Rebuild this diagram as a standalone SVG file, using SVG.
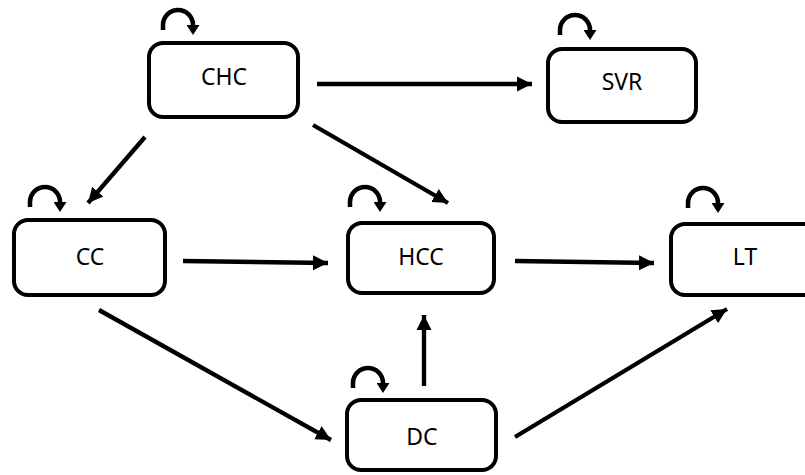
<svg xmlns="http://www.w3.org/2000/svg" width="805" height="475" viewBox="0 0 805 475">
<defs>
<marker id="ah" markerUnits="userSpaceOnUse" markerWidth="17" markerHeight="17" refX="15" refY="8" orient="auto">
<path d="M0,0.5 L15,8 L0,15.5 z" fill="#000"/>
</marker>
<marker id="lh" markerUnits="userSpaceOnUse" markerWidth="13" markerHeight="13" refX="1" refY="6.5" orient="auto">
<path d="M0,0 L10,6.5 L0,13 z" fill="#000"/>
</marker>
<path id="loop" d="M0,20 V15 A15,15 0 0 1 30,15 V16" fill="none" stroke="#000" stroke-width="4.5" marker-end="url(#lh)"/>
</defs>
<style>
.box{fill:#fff;stroke:#000;stroke-width:4}
.lbl{font-family:"Noto Sans","Open Sans",sans-serif;font-size:23px;fill:#000;text-anchor:middle;dominant-baseline:central}
.edge{stroke:#000;stroke-width:4.3;fill:none;marker-end:url(#ah)}
</style>
<rect width="805" height="475" fill="#fff"/>
<g id="edges">
<line class="edge" x1="317" y1="84" x2="532" y2="84"/>
<line class="edge" x1="145" y1="137" x2="88" y2="203"/>
<line class="edge" x1="313" y1="125" x2="448" y2="203"/>
<line class="edge" x1="183" y1="261" x2="328" y2="263"/>
<line class="edge" x1="515" y1="261" x2="654" y2="263"/>
<line class="edge" x1="99" y1="310" x2="331" y2="440"/>
<line class="edge" x1="424" y1="386" x2="424" y2="315"/>
<line class="edge" x1="515" y1="437" x2="727" y2="309"/>
</g>
<g id="CHC">
<rect class="box" x="149" y="43" width="149" height="74" rx="14"/>
<use href="#loop" x="163" y="10"/>
<text class="lbl" x="224" y="76">CHC</text>
</g>
<g id="SVR">
<rect class="box" x="548" y="49" width="148" height="73" rx="14"/>
<use href="#loop" x="560" y="15"/>
<text class="lbl" x="622" y="81">SVR</text>
</g>
<g id="CC">
<rect class="box" x="14" y="220" width="151" height="75" rx="14"/>
<use href="#loop" x="30" y="187"/>
<text class="lbl" x="90" y="256">CC</text>
</g>
<g id="HCC">
<rect class="box" x="348" y="223" width="146" height="70" rx="14"/>
<use href="#loop" x="350" y="187"/>
<text class="lbl" x="421" y="256">HCC</text>
</g>
<g id="LT">
<rect class="box" x="671" y="224" width="160" height="71" rx="14"/>
<use href="#loop" x="688" y="188"/>
<text class="lbl" x="745" y="256">LT</text>
</g>
<g id="DC">
<rect class="box" x="347" y="400" width="149" height="70" rx="14"/>
<use href="#loop" x="353" y="368"/>
<text class="lbl" x="422" y="436">DC</text>
</g>
</svg>
